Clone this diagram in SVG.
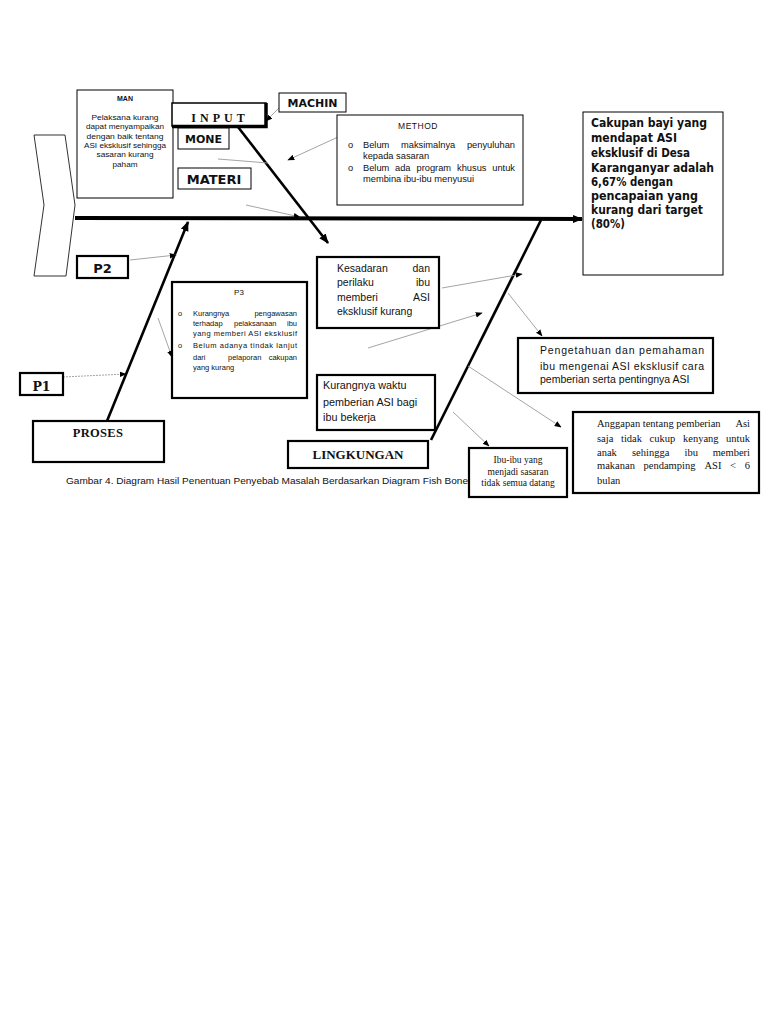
<svg xmlns="http://www.w3.org/2000/svg" width="768" height="1024" viewBox="0 0 768 1024">
<style>
.box{fill:#fff;stroke:#000;stroke-width:1}
.tbox{fill:#fff;stroke:#000;stroke-width:2.2}
.thin{stroke:#9a9a9a;stroke-width:0.9;fill:none}
.bone{stroke:#000;stroke-width:2.6;fill:none}
.sans{font-family:"Liberation Sans",Arial,sans-serif;fill:#111}
.dv{font-family:"DejaVu Sans",Verdana,sans-serif;font-weight:bold;fill:#111}
.serif{font-family:"Liberation Serif","Times New Roman",serif;fill:#111}
</style>
<defs>
<marker id="ah" viewBox="0 0 10 10" refX="9" refY="5" markerWidth="7" markerHeight="7" markerUnits="userSpaceOnUse" orient="auto"><path d="M0,1 L10,5 L0,9 Z" fill="#000"/></marker>
<marker id="ahb" viewBox="0 0 10 10" refX="9" refY="5" markerWidth="10" markerHeight="10" markerUnits="userSpaceOnUse" orient="auto"><path d="M0,1 L10,5 L0,9 Z" fill="#000"/></marker>
</defs>
<rect width="768" height="1024" fill="#fff"/>

<g id="head">
<polygon points="34,135 65,135 75,205 66,276 34,276 44,205" fill="#fff" stroke="#333" stroke-width="1"/>
</g>

<g id="connectors">
<line x1="75" y1="218" x2="582" y2="219" stroke="#000" stroke-width="4" marker-end="url(#ahb)"/>
<line x1="238" y1="127" x2="328" y2="243" class="bone" marker-end="url(#ahb)"/>
<line x1="107" y1="421" x2="188" y2="222" class="bone" marker-end="url(#ahb)"/>
<line x1="431" y1="440" x2="541" y2="220" class="bone"/>
<line x1="173" y1="109" x2="255" y2="120" class="thin" marker-end="url(#ah)"/>
<line x1="281" y1="106" x2="266" y2="121" class="thin" marker-end="url(#ah)"/>
<line x1="218" y1="159" x2="268" y2="163" class="thin"/>
<line x1="338" y1="137" x2="288" y2="160" class="thin" marker-end="url(#ah)"/>
<line x1="246" y1="205" x2="300" y2="217" class="thin" marker-end="url(#ah)"/>
<line x1="130" y1="260" x2="176" y2="255" class="thin" marker-end="url(#ah)"/>
<line x1="158" y1="318" x2="172" y2="357" class="thin" marker-end="url(#ah)"/>
<line x1="63" y1="377" x2="126" y2="374" class="thin" stroke-dasharray="2,1" marker-end="url(#ah)"/>
<line x1="442" y1="288" x2="522" y2="274" class="thin" marker-end="url(#ah)"/>
<line x1="368" y1="348" x2="482" y2="313" class="thin" marker-end="url(#ah)"/>
<line x1="508" y1="293" x2="542" y2="336" class="thin" marker-end="url(#ah)"/>
<line x1="468" y1="366" x2="561" y2="427" class="thin" marker-end="url(#ah)"/>
<line x1="453" y1="412" x2="489" y2="446" class="thin" marker-end="url(#ah)"/>
</g>

<g id="man">
<rect x="77" y="90" width="96" height="108" class="box"/>
<text x="125" y="100.5" class="sans" font-size="7" font-weight="bold" text-anchor="middle">MAN</text>
<g class="sans" font-size="7.5" text-anchor="middle">
<text x="125" y="119.5" textLength="67" lengthAdjust="spacingAndGlyphs">Pelaksana kurang</text>
<text x="125" y="129" textLength="78" lengthAdjust="spacingAndGlyphs">dapat menyampaikan</text>
<text x="125" y="138.5" textLength="77" lengthAdjust="spacingAndGlyphs">dengan baik tentang</text>
<text x="125" y="148" textLength="82" lengthAdjust="spacingAndGlyphs">ASI eksklusif sehingga</text>
<text x="125" y="157" textLength="57" lengthAdjust="spacingAndGlyphs">sasaran kurang</text>
<text x="125" y="166.5" textLength="25" lengthAdjust="spacingAndGlyphs">paham</text>
</g>
</g>

<g id="input">
<rect x="172" y="103" width="94" height="23" fill="#fff" stroke="#000" stroke-width="1.5"/>
<path d="M266,103 V126.5 H172" fill="none" stroke="#000" stroke-width="3.5"/>
<text x="220" y="122" class="serif" font-size="12" font-weight="bold" text-anchor="middle" letter-spacing="4">INPUT</text>
</g>

<g id="machin">
<rect x="279" y="93" width="67" height="19" class="box"/>
<text x="312.5" y="106.5" class="dv" font-size="11" text-anchor="middle">MACHIN</text>
</g>

<g id="mone">
<rect x="178" y="128" width="51" height="21" class="box"/>
<text x="203.5" y="142.5" class="dv" font-size="11" text-anchor="middle">MONE</text>
</g>

<g id="materi">
<rect x="178" y="168" width="73" height="21" class="box"/>
<text x="214" y="183.5" class="dv" font-size="13" text-anchor="middle">MATERI</text>
</g>

<g id="method">
<rect x="337" y="115" width="186" height="90" class="box"/>
<text x="418" y="129" class="sans" font-size="8.5" text-anchor="middle" letter-spacing="0.5">METHOD</text>
<g class="sans" font-size="9.3">
<text x="348" y="148">o</text>
<text x="363" y="148">Belum</text>
<text x="401" y="148">maksimalnya</text>
<text x="515" y="148" text-anchor="end">penyuluhan</text>
<text x="363" y="158.5">kepada sasaran</text>
<text x="348" y="170.5">o</text>
<text x="363" y="170.5">Belum</text>
<text x="395" y="170.5">ada</text>
<text x="416.5" y="170.5">program</text>
<text x="457" y="170.5">khusus</text>
<text x="515" y="170.5" text-anchor="end">untuk</text>
<text x="363" y="181.5">membina ibu-ibu menyusui</text>
</g>
</g>

<g id="result">
<rect x="583" y="112" width="140" height="163" class="box"/>
<g class="dv" font-size="12.5">
<text x="591" y="126.5" textLength="116" lengthAdjust="spacingAndGlyphs">Cakupan bayi yang</text>
<text x="591" y="141.5" textLength="86" lengthAdjust="spacingAndGlyphs">mendapat ASI</text>
<text x="591" y="156.5" textLength="99" lengthAdjust="spacingAndGlyphs">eksklusif di Desa</text>
<text x="591" y="171.5" textLength="123" lengthAdjust="spacingAndGlyphs">Karanganyar adalah</text>
<text x="591" y="185.5" textLength="82" lengthAdjust="spacingAndGlyphs">6,67% dengan</text>
<text x="591" y="199.5" textLength="107" lengthAdjust="spacingAndGlyphs">pencapaian yang</text>
<text x="591" y="213.5" textLength="112" lengthAdjust="spacingAndGlyphs">kurang dari target</text>
<text x="591" y="227.5" textLength="34" lengthAdjust="spacingAndGlyphs">(80%)</text>
</g>
</g>

<g id="p2">
<rect x="77" y="256" width="51" height="22" class="tbox"/>
<text x="102.5" y="272.5" class="dv" font-size="13" text-anchor="middle">P2</text>
</g>

<g id="p3">
<rect x="172" y="282" width="135" height="116" class="tbox"/>
<text x="239" y="295" class="sans" font-size="8" text-anchor="middle">P3</text>
<g class="sans" font-size="7.5">
<text x="178" y="315.5">o</text>
<text x="193" y="315.5">Kurangnya</text>
<text x="297" y="315.5" text-anchor="end">pengawasan</text>
<text x="193" y="325.5">terhadap</text>
<text x="234" y="325.5">pelaksanaan</text>
<text x="297" y="325.5" text-anchor="end">ibu</text>
<text x="193" y="335.5" textLength="104" lengthAdjust="spacing">yang memberi ASI eksklusif</text>
<text x="178" y="347.5">o</text>
<text x="193" y="347.5" textLength="104" lengthAdjust="spacing">Belum adanya tindak lanjut</text>
<text x="193" y="359.5">dari</text>
<text x="228" y="359.5">pelaporan</text>
<text x="297" y="359.5" text-anchor="end">cakupan</text>
<text x="193" y="369.5">yang kurang</text>
</g>
</g>

<g id="p1">
<rect x="20" y="373" width="43" height="22" class="tbox"/>
<text x="41.5" y="390.5" font-family="'DejaVu Serif',serif" font-weight="bold" font-size="12.5" fill="#111" text-anchor="middle">P1</text>
</g>

<g id="proses">
<rect x="33" y="421" width="131" height="41" class="tbox"/>
<text x="98" y="437" class="serif" font-size="12.5" font-weight="bold" text-anchor="middle" letter-spacing="0.3">PROSES</text>
</g>

<g id="kesadaran">
<rect x="317" y="257" width="122" height="71" class="tbox"/>
<g class="sans" font-size="10.5">
<text x="337" y="272">Kesadaran</text>
<text x="430" y="272" text-anchor="end">dan</text>
<text x="337" y="286">perilaku</text>
<text x="430" y="286" text-anchor="end">ibu</text>
<text x="337" y="301">memberi</text>
<text x="430" y="301" text-anchor="end">ASI</text>
<text x="337" y="315">eksklusif kurang</text>
</g>
</g>

<g id="pengetahuan">
<rect x="518" y="338" width="195" height="55" class="tbox"/>
<g class="sans" font-size="10.5">
<text x="540" y="354" textLength="164" lengthAdjust="spacing">Pengetahuan dan pemahaman</text>
<text x="540" y="369.5" textLength="164" lengthAdjust="spacing">ibu mengenai ASI eksklusif cara</text>
<text x="540" y="383">pemberian serta pentingnya ASI</text>
</g>
</g>

<g id="kurangnya">
<rect x="317" y="375" width="118" height="55" class="tbox"/>
<g class="sans" font-size="10.8">
<text x="323" y="389">Kurangnya waktu</text>
<text x="323" y="406">pemberian ASI bagi</text>
<text x="323" y="421">ibu bekerja</text>
</g>
</g>

<g id="lingkungan">
<rect x="288" y="441" width="140" height="27" class="tbox"/>
<text x="358" y="458.5" class="serif" font-size="13" font-weight="bold" text-anchor="middle">LINGKUNGAN</text>
</g>

<g id="ibuibu">
<rect x="469" y="448" width="98" height="49" class="tbox"/>
<g class="serif" font-size="9.5" text-anchor="middle">
<text x="518" y="463">Ibu-ibu yang</text>
<text x="518" y="474.5">menjadi sasaran</text>
<text x="518" y="485.5">tidak semua datang</text>
</g>
</g>

<g id="anggapan">
<rect x="573" y="412" width="186" height="81" class="tbox"/>
<g class="serif" font-size="10.5">
<text x="597" y="426.5">Anggapan tentang pemberian</text>
<text x="750" y="426.5" text-anchor="end">Asi</text>
<text x="597" y="441.5">saja</text>
<text x="621" y="441.5">tidak</text>
<text x="649.5" y="441.5">cukup</text>
<text x="683" y="441.5">kenyang</text>
<text x="750" y="441.5" text-anchor="end">untuk</text>
<text x="597" y="455.5">anak</text>
<text x="632" y="455.5">sehingga</text>
<text x="684.5" y="455.5">ibu</text>
<text x="750" y="455.5" text-anchor="end">memberi</text>
<text x="597" y="469">makanan</text>
<text x="643.5" y="469">pendamping</text>
<text x="704.5" y="469">ASI</text>
<text x="730" y="469">&lt;</text>
<text x="750" y="469" text-anchor="end">6</text>
<text x="597" y="483.5">bulan</text>
</g>
</g>

<g id="caption">
<text x="66" y="484" class="sans" font-size="9.5" textLength="402" lengthAdjust="spacingAndGlyphs">Gambar 4. Diagram Hasil Penentuan Penyebab Masalah Berdasarkan Diagram Fish Bone</text>
</g>
</svg>
